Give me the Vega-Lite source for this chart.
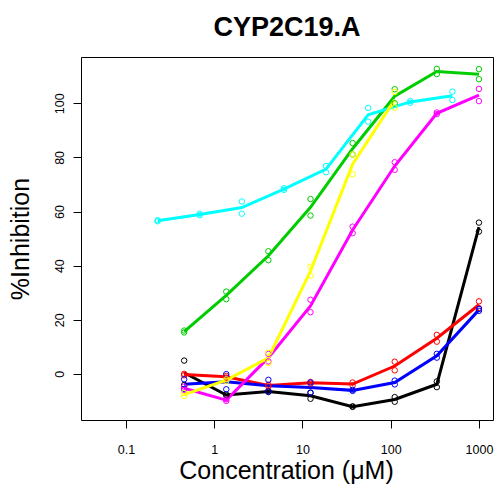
{
  "$schema": "https://vega.github.io/schema/vega-lite/v6.json",
  "autosize": "none",
  "width": 412,
  "height": 363,
  "padding": {"left": 81, "top": 57, "right": 5, "bottom": 69},
  "background": "white",
  "config": {
    "view": {"stroke": "black", "strokeWidth": 1},
    "font": "Liberation Sans"
  },
  "title": {
    "text": "CYP2C19.A",
    "font": "Liberation Sans",
    "fontSize": 27,
    "fontWeight": "bold",
    "color": "black",
    "anchor": "middle",
    "frame": "group",
    "baseline": "alphabetic",
    "offset": -6
  },
  "data": {
    "values": [
      {"s":"c1","conc":0.4572,"pct":4.9},{"s":"c1","conc":0.4572,"pct":-4.1},
      {"s":"c1","conc":1.3717,"pct":-7.6},{"s":"c1","conc":1.3717,"pct":-8.0},
      {"s":"c1","conc":4.115,"pct":-6.3},{"s":"c1","conc":4.115,"pct":-6.7},
      {"s":"c1","conc":12.346,"pct":-7.0},{"s":"c1","conc":12.346,"pct":-9.2},
      {"s":"c1","conc":37.037,"pct":-12.0},{"s":"c1","conc":37.037,"pct":-12.2},
      {"s":"c1","conc":111.11,"pct":-8.6},{"s":"c1","conc":111.11,"pct":-10.3},
      {"s":"c1","conc":333.33,"pct":-2.8},{"s":"c1","conc":333.33,"pct":-4.9},
      {"s":"c1","conc":1000,"pct":55.9},{"s":"c1","conc":1000,"pct":52.6},

      {"s":"c2","conc":0.4572,"pct":0.0},{"s":"c2","conc":0.4572,"pct":-0.5},
      {"s":"c2","conc":1.3717,"pct":-0.8},{"s":"c2","conc":1.3717,"pct":-1.4},
      {"s":"c2","conc":4.115,"pct":-4.0},{"s":"c2","conc":4.115,"pct":-4.6},
      {"s":"c2","conc":12.346,"pct":-3.0},{"s":"c2","conc":12.346,"pct":-3.6},
      {"s":"c2","conc":37.037,"pct":-3.2},{"s":"c2","conc":37.037,"pct":-4.3},
      {"s":"c2","conc":111.11,"pct":4.5},{"s":"c2","conc":111.11,"pct":1.3},
      {"s":"c2","conc":333.33,"pct":14.4},{"s":"c2","conc":333.33,"pct":11.9},
      {"s":"c2","conc":1000,"pct":26.8},{"s":"c2","conc":1000,"pct":24.3},

      {"s":"c3","conc":0.4572,"pct":16.0},{"s":"c3","conc":0.4572,"pct":15.3},
      {"s":"c3","conc":1.3717,"pct":30.4},{"s":"c3","conc":1.3717,"pct":27.6},
      {"s":"c3","conc":4.115,"pct":45.3},{"s":"c3","conc":4.115,"pct":42.0},
      {"s":"c3","conc":12.346,"pct":64.6},{"s":"c3","conc":12.346,"pct":58.5},
      {"s":"c3","conc":37.037,"pct":85.3},{"s":"c3","conc":37.037,"pct":81.1},
      {"s":"c3","conc":111.11,"pct":105.2},{"s":"c3","conc":111.11,"pct":100.0},
      {"s":"c3","conc":333.33,"pct":112.7},{"s":"c3","conc":333.33,"pct":110.8},
      {"s":"c3","conc":1000,"pct":112.6},{"s":"c3","conc":1000,"pct":108.9},

      {"s":"c4","conc":0.4572,"pct":-2.0},{"s":"c4","conc":0.4572,"pct":-5.6},
      {"s":"c4","conc":1.3717,"pct":-0.1},{"s":"c4","conc":1.3717,"pct":-5.7},
      {"s":"c4","conc":4.115,"pct":-2.2},{"s":"c4","conc":4.115,"pct":-6.5},
      {"s":"c4","conc":12.346,"pct":-3.2},{"s":"c4","conc":12.346,"pct":-6.9},
      {"s":"c4","conc":37.037,"pct":-5.9},{"s":"c4","conc":37.037,"pct":-6.3},
      {"s":"c4","conc":111.11,"pct":-2.5},{"s":"c4","conc":111.11,"pct":-3.9},
      {"s":"c4","conc":333.33,"pct":7.4},{"s":"c4","conc":333.33,"pct":6.0},
      {"s":"c4","conc":1000,"pct":24.0},{"s":"c4","conc":1000,"pct":23.3},

      {"s":"c5","conc":0.2286,"pct":56.8},{"s":"c5","conc":0.2286,"pct":56.4},
      {"s":"c5","conc":0.6859,"pct":59.2},{"s":"c5","conc":0.6859,"pct":58.6},
      {"s":"c5","conc":2.0576,"pct":63.7},{"s":"c5","conc":2.0576,"pct":59.2},
      {"s":"c5","conc":6.1728,"pct":68.6},{"s":"c5","conc":6.1728,"pct":68.0},
      {"s":"c5","conc":18.519,"pct":76.8},{"s":"c5","conc":18.519,"pct":74.5},
      {"s":"c5","conc":55.556,"pct":98.3},{"s":"c5","conc":55.556,"pct":93.2},
      {"s":"c5","conc":166.67,"pct":100.8},{"s":"c5","conc":166.67,"pct":100.2},
      {"s":"c5","conc":500,"pct":104.3},{"s":"c5","conc":500,"pct":101.2},

      {"s":"c6","conc":0.4572,"pct":-4.7},{"s":"c6","conc":0.4572,"pct":-5.9},
      {"s":"c6","conc":1.3717,"pct":-9.4},{"s":"c6","conc":1.3717,"pct":-10.0},
      {"s":"c6","conc":4.115,"pct":7.4},{"s":"c6","conc":4.115,"pct":4.6},
      {"s":"c6","conc":12.346,"pct":27.4},{"s":"c6","conc":12.346,"pct":22.8},
      {"s":"c6","conc":37.037,"pct":54.4},{"s":"c6","conc":37.037,"pct":52.0},
      {"s":"c6","conc":111.11,"pct":78.2},{"s":"c6","conc":111.11,"pct":75.4},
      {"s":"c6","conc":333.33,"pct":96.6},{"s":"c6","conc":333.33,"pct":96.0},
      {"s":"c6","conc":1000,"pct":105.3},{"s":"c6","conc":1000,"pct":100.8},

      {"s":"c7","conc":0.4572,"pct":-7.1},{"s":"c7","conc":0.4572,"pct":-8.2},
      {"s":"c7","conc":1.3717,"pct":-2.0},{"s":"c7","conc":1.3717,"pct":-2.6},
      {"s":"c7","conc":4.115,"pct":7.8},{"s":"c7","conc":4.115,"pct":4.0},
      {"s":"c7","conc":12.346,"pct":39.6},{"s":"c7","conc":12.346,"pct":36.3},
      {"s":"c7","conc":37.037,"pct":81.1},{"s":"c7","conc":37.037,"pct":73.8},
      {"s":"c7","conc":111.11,"pct":104.2},{"s":"c7","conc":111.11,"pct":98.4}
    ]
  },
  "encoding": {
    "x": {
      "field": "conc",
      "type": "quantitative",
      "scale": {"type": "log", "domain": [0.031, 1443], "nice": false},
      "axis": {
        "title": "Concentration (μM)",
        "values": [0.1, 1, 10, 100, 1000],
        "format": "~g",
        "grid": false,
        "domain": false,
        "ticks": true,
        "tickSize": 8,
        "tickColor": "black",
        "tickWidth": 1,
        "labelFont": "Liberation Sans",
        "labelFontSize": 12.5,
        "labelColor": "black",
        "labelBaseline": "alphabetic",
        "labelPadding": 25,
        "labelFlush": false,
        "labelOverlap": false,
        "titleFont": "Liberation Sans",
        "titleFontSize": 25,
        "titleFontWeight": "normal",
        "titleColor": "black",
        "titleBaseline": "alphabetic",
        "titleAnchor": "middle",
        "titleX": 205,
        "titleY": 58
      }
    },
    "y": {
      "field": "pct",
      "type": "quantitative",
      "scale": {"domain": [-17.05, 117.1], "nice": false, "zero": false},
      "axis": {
        "title": "%Inhibition",
        "values": [0, 20, 40, 60, 80, 100],
        "grid": false,
        "domain": false,
        "tickSize": 8,
        "tickColor": "black",
        "tickWidth": 1,
        "labelFont": "Liberation Sans",
        "labelFontSize": 12.5,
        "labelColor": "black",
        "labelAngle": 270,
        "labelAlign": "center",
        "labelBaseline": "alphabetic",
        "labelPadding": 10,
        "labelFlush": false,
        "labelOverlap": false,
        "titleFont": "Liberation Sans",
        "titleFontSize": 25,
        "titleFontWeight": "normal",
        "titleColor": "black",
        "titleAngle": 270,
        "titleAlign": "center",
        "titleBaseline": "alphabetic",
        "titleX": -53,
        "titleY": 181.5
      }
    },
    "color": {
      "field": "s",
      "type": "nominal",
      "legend": null,
      "scale": {
        "domain": ["c1", "c2", "c3", "c4", "c5", "c6", "c7"],
        "range": ["#000000", "#FF0000", "#00CD00", "#0000FF", "#00FFFF", "#FF00FF", "#FFFF00"]
      }
    }
  },
  "layer": [
    {
      "mark": {"type": "line", "strokeWidth": 3, "clip": true},
      "encoding": {
        "y": {"aggregate": "mean", "field": "pct", "type": "quantitative"}
      }
    },
    {
      "mark": {"type": "point", "shape": "circle", "filled": false, "size": 30, "strokeWidth": 1, "opacity": 1, "clip": true}
    }
  ]
}
